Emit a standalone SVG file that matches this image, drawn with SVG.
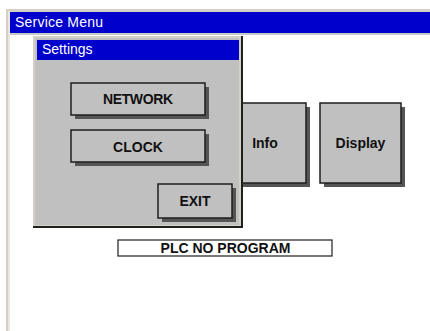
<svg xmlns="http://www.w3.org/2000/svg" width="430" height="331" viewBox="0 0 430 331">
<style>
.btn{fill:#c0c0c0;stroke:#1e1e1e;stroke-width:1.5}
.shd{fill:#555}
.bt{font-family:"Liberation Sans",Arial,sans-serif;font-weight:bold;font-size:14px;fill:#111;text-anchor:middle}
.tt{font-family:"Liberation Sans",Arial,sans-serif;font-size:14px;fill:#fff}
</style>
<rect width="430" height="331" fill="#fff"/>
<g id="service-menu">
<rect x="6" y="9" width="424" height="3" fill="#d4d0c8"/>
<rect x="6" y="9" width="2" height="322" fill="#d4d0c8"/>
<rect x="8" y="11" width="2" height="320" fill="#ebe8e2"/>
<rect x="10" y="12" width="420" height="21" fill="#0000cc"/>
<rect x="10" y="33" width="420" height="2" fill="#c8c8c8"/>
<text class="tt" x="15" y="27" textLength="88">Service Menu</text>
</g>
<g id="info">
<rect class="shd" x="229" y="107" width="81" height="80"/>
<rect class="btn" x="225" y="103" width="81" height="80"/>
<text class="bt" x="265" y="148">Info</text>
</g>
<g id="display">
<rect class="shd" x="324" y="107" width="81" height="80"/>
<rect class="btn" x="320" y="103" width="81" height="80"/>
<text class="bt" x="360.5" y="148" font-size="14.5">Display</text>
</g>
<g id="plc-status">
<rect x="118" y="240" width="214" height="16" fill="#fff" stroke="#1e1e1e" stroke-width="1.2"/>
<text class="bt" x="225.5" y="253" font-size="14.8">PLC NO PROGRAM</text>
</g>
<g id="settings">
<rect x="33" y="36" width="210" height="192" fill="#d4d0c8"/>
<rect x="35" y="38" width="204" height="187" fill="#c0c0c0"/>
<rect x="241" y="36" width="2" height="192" fill="#202020"/>
<rect x="33" y="226" width="210" height="2" fill="#202020"/>
<rect x="37" y="40" width="202" height="20" fill="#0000cc"/>
<text class="tt" x="42" y="54">Settings</text>
</g>
<g id="network">
<rect class="shd" x="75" y="87" width="134" height="32"/>
<rect class="btn" x="71" y="83" width="134" height="32"/>
<text class="bt" x="138" y="104" textLength="70">NETWORK</text>
</g>
<g id="clock">
<rect class="shd" x="75" y="134" width="134" height="32"/>
<rect class="btn" x="71" y="130" width="134" height="32"/>
<text class="bt" x="138" y="152">CLOCK</text>
</g>
<g id="exit">
<rect class="shd" x="162" y="188" width="74" height="34"/>
<rect class="btn" x="158" y="184" width="74" height="34"/>
<text class="bt" x="195" y="206">EXIT</text>
</g>
</svg>
